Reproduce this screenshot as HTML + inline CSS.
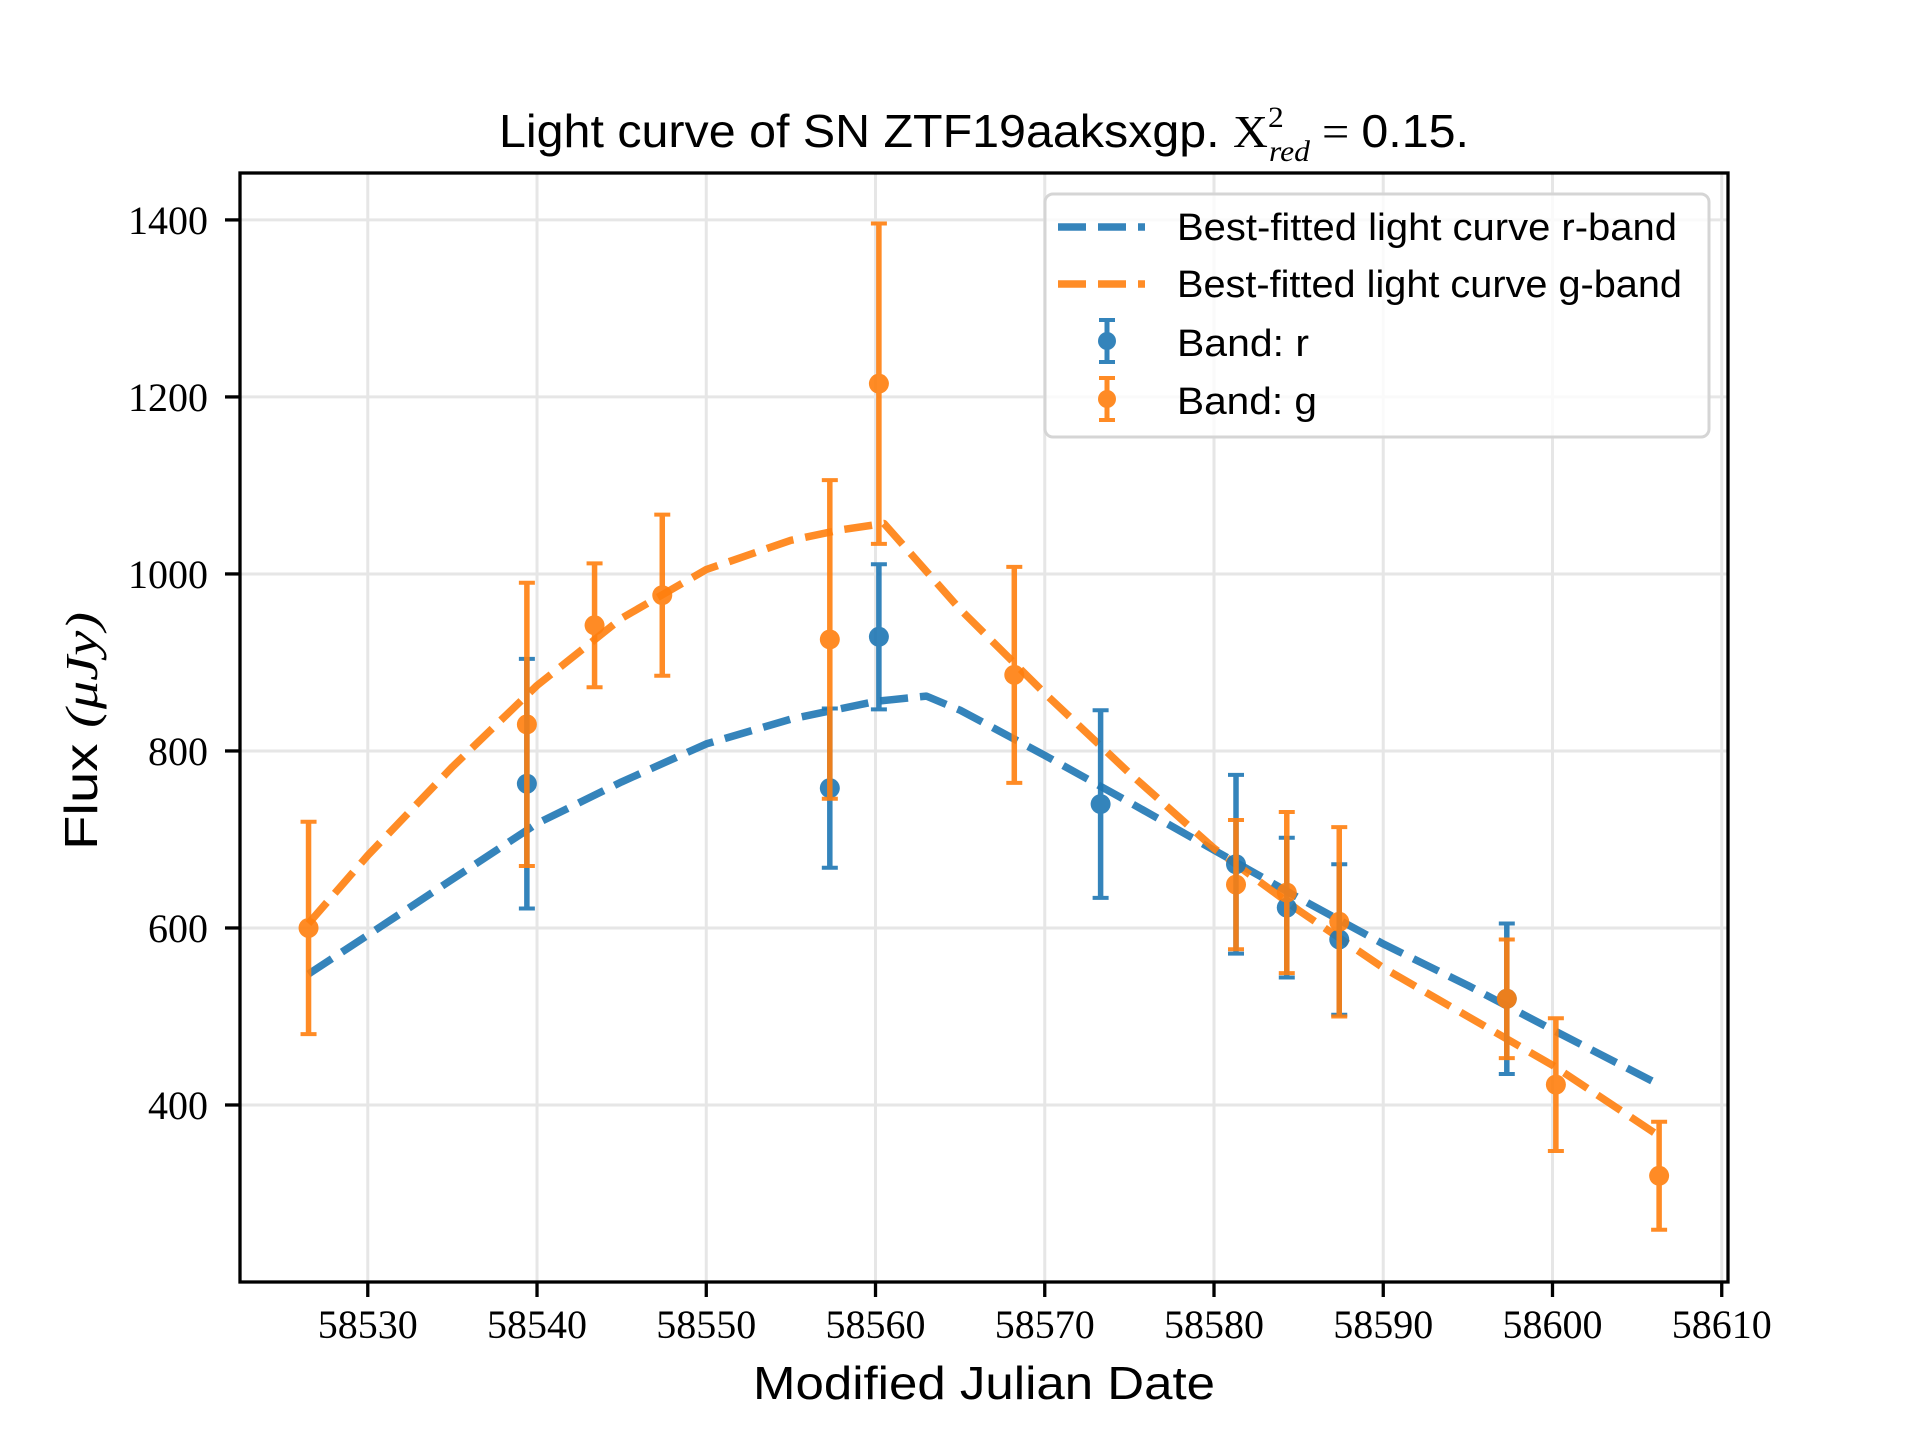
<!DOCTYPE html>
<html><head><meta charset="utf-8"><style>
html,body{margin:0;padding:0;background:#fff}
svg{display:block}
</style></head><body>
<svg id="chart" xmlns="http://www.w3.org/2000/svg" width="1920" height="1440" viewBox="0 0 1920 1440">
<rect x="0" y="0" width="1920" height="1440" fill="#fff"/>
<g id="grid"></g>
<g id="plot"></g>
<rect x="240" y="173" width="1488" height="1109" fill="none" stroke="#000" stroke-width="3.3"/>
<g id="axes"></g>
<text x="984" y="147" text-anchor="middle" font-family="Liberation Sans, sans-serif" font-size="46" textLength="970" lengthAdjust="spacingAndGlyphs">Light curve of SN ZTF19aaksxgp. <tspan font-family="Liberation Serif, serif">X</tspan><tspan font-family="Liberation Serif, serif" font-size="30" dy="-20">2</tspan><tspan font-family="Liberation Serif, serif" font-style="italic" font-size="30" dx="-14" dy="34">red</tspan><tspan dy="-14" font-family="Liberation Serif, serif"> = </tspan>0.15.</text>
<text x="984" y="1399" text-anchor="middle" font-family="Liberation Sans, sans-serif" font-size="46" textLength="462" lengthAdjust="spacingAndGlyphs">Modified Julian Date</text>
<text transform="translate(97,731) rotate(-90)" text-anchor="middle" font-family="Liberation Sans, sans-serif" font-size="46" textLength="238" lengthAdjust="spacingAndGlyphs">Flux <tspan font-family="Liberation Serif, serif" font-style="italic">(μJy)</tspan></text>
<g id="legend">
<rect x="1045" y="194" width="664" height="243" rx="8" fill="#fff" fill-opacity="0.8" stroke="#d5d5d5" stroke-width="3"/>
<line x1="1058" y1="227" x2="1145" y2="227" stroke="#1f77b4" stroke-opacity="0.9" stroke-width="7.5" stroke-dasharray="28 12"/>
<text x="1177" y="240" font-family="Liberation Sans, sans-serif" font-size="38" textLength="500" lengthAdjust="spacingAndGlyphs">Best-fitted light curve r-band</text>
<line x1="1058" y1="284" x2="1145" y2="284" stroke="#ff7f0e" stroke-opacity="0.9" stroke-width="7.5" stroke-dasharray="28 12"/>
<text x="1177" y="297" font-family="Liberation Sans, sans-serif" font-size="38" textLength="505" lengthAdjust="spacingAndGlyphs">Best-fitted light curve g-band</text>
<g opacity="0.9"><line x1="1107" y1="320" x2="1107" y2="362" stroke="#1f77b4" stroke-width="5"/><line x1="1099" y1="320" x2="1115" y2="320" stroke="#1f77b4" stroke-width="4"/><line x1="1099" y1="362" x2="1115" y2="362" stroke="#1f77b4" stroke-width="4"/><circle cx="1107" cy="341" r="9" fill="#1f77b4"/></g>
<text x="1177" y="356" font-family="Liberation Sans, sans-serif" font-size="38" textLength="132" lengthAdjust="spacingAndGlyphs">Band: r</text>
<g opacity="0.9"><line x1="1107" y1="378" x2="1107" y2="420" stroke="#ff7f0e" stroke-width="5"/><line x1="1099" y1="378" x2="1115" y2="378" stroke="#ff7f0e" stroke-width="4"/><line x1="1099" y1="420" x2="1115" y2="420" stroke="#ff7f0e" stroke-width="4"/><circle cx="1107" cy="399" r="9" fill="#ff7f0e"/></g>
<text x="1177" y="414" font-family="Liberation Sans, sans-serif" font-size="38" textLength="140" lengthAdjust="spacingAndGlyphs">Band: g</text>
</g>
</svg>
<script>
const xTicks = [58530, 58540, 58550, 58560, 58570, 58580, 58590, 58600, 58610];
const yTicks = [400, 600, 800, 1000, 1200, 1400];
const rDates = [58539.4, 58557.3, 58560.2, 58573.3, 58581.3, 58584.3, 58587.4, 58597.3];
const rFlux = [763, 758, 929, 740, 672, 623, 587, 520];
const rErr = [141, 90, 82, 106, 101, 79, 85, 85];
const gDates = [58526.5, 58539.4, 58543.4, 58547.4, 58557.3, 58560.2, 58568.2, 58581.3, 58584.3, 58587.4, 58597.3, 58600.2, 58606.3];
const gFlux = [600, 830, 942, 976, 926, 1215, 886, 649, 640, 607, 520, 423, 320];
const gErr = [120, 160, 70, 91, 180, 181, 122, 73, 91, 107, 67, 75, 61];
const rFitDates = [58526.5, 58530, 58535, 58540, 58545, 58550, 58555, 58560, 58563, 58565, 58570, 58575, 58580, 58585, 58590, 58595, 58600, 58606.3];
const rFitFlux = [548, 592, 655, 718, 765, 808, 836, 856, 862, 846, 795, 742, 688, 634, 582, 535, 485, 423];
const gFitDates = [58526.5, 58530, 58535, 58540, 58545, 58550, 58555, 58558, 58560.5, 58565, 58570, 58575, 58580, 58585, 58590, 58595, 58600, 58606.3];
const gFitFlux = [605, 682, 782, 874, 950, 1005, 1038, 1050, 1057, 960, 865, 775, 690, 620, 555, 500, 445, 365];

const NS = 'http://www.w3.org/2000/svg';
const X0 = 240, X1 = 1728, Y0 = 173, Y1 = 1282;
const XMIN = 58522.45, XMAX = 58610.37, YMIN = 200, YMAX = 1453;
function sx(v){ return X0 + (v - XMIN) / (XMAX - XMIN) * (X1 - X0); }
function sy(v){ return Y1 - (v - YMIN) / (YMAX - YMIN) * (Y1 - Y0); }
function mk(tag, attrs, parent){ const e = document.createElementNS(NS, tag); for (const k in attrs) e.setAttribute(k, attrs[k]); parent.appendChild(e); return e; }
const grid = document.getElementById('grid'), axes = document.getElementById('axes'), plot = document.getElementById('plot');

xTicks.forEach(t => {
  const x = sx(t);
  const g = mk('line', {x1:x, x2:x, y1:Y0, y2:Y1, stroke:'#e6e6e6', 'stroke-width':3}, grid);
  
  
  const tk = mk('line', {x1:x, x2:x, y1:Y1, y2:Y1+15, stroke:'#000', 'stroke-width':3.3}, axes);
  
  
  const lb = mk('text', {x:x, y:1338, 'text-anchor':'middle', 'font-family':'Liberation Serif, serif', 'font-size':40}, axes);
  lb.textContent = t;
  
  
});
yTicks.forEach(t => {
  const y = sy(t);
  const g = mk('line', {x1:X0, x2:X1, y1:y, y2:y, stroke:'#e6e6e6', 'stroke-width':3}, grid);
  
  
  const tk = mk('line', {x1:X0-15, x2:X0, y1:y, y2:y, stroke:'#000', 'stroke-width':3.3}, axes);
  
  
  const lb = mk('text', {x:208, y:y+14, 'text-anchor':'end', 'font-family':'Liberation Serif, serif', 'font-size':40}, axes);
  lb.textContent = t;
  
  
});

function fit(dates, flux, color, name){
  const d = dates.map((t,i) => (i ? 'L' : 'M') + sx(t).toFixed(1) + ' ' + sy(flux[i]).toFixed(1)).join(' ');
  const p = mk('path', {d:d, fill:'none', stroke:color, 'stroke-opacity':0.9, 'stroke-width':7.5, 'stroke-dasharray':'28 12', 'stroke-linejoin':'round'}, plot);
  
  
}
fit(rFitDates, rFitFlux, '#1f77b4', 'r-band-fit-curve');
fit(gFitDates, gFitFlux, '#ff7f0e', 'g-band-fit-curve');

function points(dates, flux, err, color, name){
  dates.forEach((t,i) => {
    const g = mk('g', {opacity:0.9}, plot);
    
    
    const x = sx(t), yt = sy(flux[i] + err[i]), yb = sy(flux[i] - err[i]);
    mk('line', {x1:x, x2:x, y1:yt, y2:yb, stroke:color, 'stroke-width':5.5}, g);
    mk('line', {x1:x-8, x2:x+8, y1:yt, y2:yt, stroke:color, 'stroke-width':4}, g);
    mk('line', {x1:x-8, x2:x+8, y1:yb, y2:yb, stroke:color, 'stroke-width':4}, g);
    mk('circle', {cx:x, cy:sy(flux[i]), r:10, fill:color}, g);
  });
}
points(rDates, rFlux, rErr, '#1f77b4', 'r-band-point');
points(gDates, gFlux, gErr, '#ff7f0e', 'g-band-point');
</script>
</body></html>
